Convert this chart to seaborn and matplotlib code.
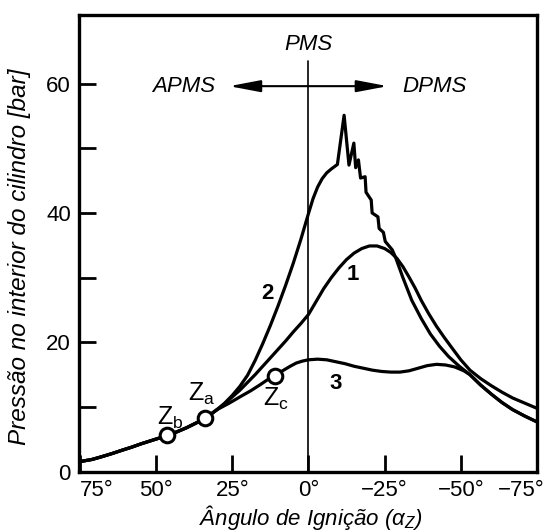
import pandas as pd
import seaborn as sns
import matplotlib.pyplot as plt
from matplotlib.transforms import ScaledTranslation

# Curvas de pressão no cilindro
shared_x = [75.2, 71, 68, 64.5, 61, 58, 55, 51, 46.3, 43, 40, 37, 33.9, 32, 30]
shared_y = [1.55, 1.9, 2.3, 2.8, 3.35, 3.8, 4.3, 4.9, 5.6, 6.2, 6.8, 7.5, 8.25, 8.9, 9.6]

curve1_x = [27.5, 25.4, 22.5, 20, 17.5, 15, 12.5, 10, 7.5, 5, 2.5, 0, -2.5, -5, -7.5,
            -10, -12.5, -15, -17.5, -20, -22.5, -25, -27, -29, -31, -33, -35, -37,
            -39.5, -42, -44.5, -47, -50, -53, -56.5, -60, -63.5, -67, -71, -75]
curve1_y = [10.5, 11.4, 12.6, 13.8, 15.0, 16.3, 17.6, 18.9, 20.2, 21.6, 22.9, 24.3,
            26.3, 28.3, 30.0, 31.5, 32.8, 33.8, 34.5, 34.9, 34.9, 34.5, 33.9, 33.0,
            31.7, 30.1, 28.4, 26.5, 24.4, 22.5, 20.8, 19.2, 17.3, 15.7, 14.4, 13.3,
            12.3, 11.4, 10.6, 9.8]

curve2_x = [27.5, 25, 22.5, 20, 17.5, 15, 12.5, 10, 7.5, 5, 2.5, 0, -1.5, -3, -4.5,
            -6, -7.5, -9.5, -11.7, -13.3,
            -14.9, -15.5, -16.4, -17.1, -18.6, -18.9, -20.6, -20.9, -22.8, -23.2,
            -24.6, -25.2, -27.5, -28.7, -31, -33.9, -37, -40, -43, -46, -49.5, -53,
            -56.5, -60, -63.5, -67, -71, -75]
curve2_y = [10.6, 11.8, 13.2, 14.9, 17.2, 19.8, 22.6, 25.6, 28.8, 32.2, 35.9, 39.9,
            42.2, 44.0, 45.3, 46.2, 46.8, 47.5, 55.1, 47.4,
            50.8, 47.0, 48.2, 45.4, 45.6, 43.2, 42.0, 40.0, 39.4, 37.6,
            37.0, 35.6, 34.3, 33.0, 30.0, 26.5, 23.7, 21.3, 19.4, 17.8, 16.3, 15.0,
            13.4, 12.0, 10.7, 9.6, 8.6, 7.7]

curve3_x = [26, 22, 19, 16, 13.5, 11, 8.5, 6, 4, 2, 0, -3, -6, -9, -12, -15, -18,
            -21, -24, -27, -30, -33, -36, -39, -42, -45, -48, -51, -53,
            -56.5, -60, -63.5, -67, -71, -75]
curve3_y = [10.6, 11.7, 12.5, 13.4, 14.2, 14.9, 15.6, 16.3, 16.8, 17.1, 17.3, 17.4,
            17.3, 17.0, 16.7, 16.3, 16.0, 15.7, 15.5, 15.4, 15.4, 15.6, 16.0, 16.4,
            16.6, 16.5, 16.2, 15.6, 15.0, 13.4, 12.0, 10.7, 9.6, 8.6, 7.7]

# Pontos de ignição Zb, Za, Zc
point_names = ['b', 'a', 'c']
point_x = [46.3, 33.9, 11.0]
point_y = [5.6, 8.25, 14.8]

x_ticks = [75, 50, 25, 0, -25, -50, -75]
x_labels = ['75°', '50°', '25°', '0°', '−25°', '−50°', '−75°']
y_ticks = [0, 10, 20, 30, 40, 50, 60]
y_labels = ['0', '', '20', '', '40', '', '60']
pms_top = 63.5
arrow_y = 59.6
arrow_reach = 26

sns.set_style('ticks')
plt.rcParams['font.family'] = ['Liberation Sans', 'DejaVu Sans']
plt.rcParams['mathtext.fontset'] = 'custom'
plt.rcParams['mathtext.rm'] = 'Liberation Sans'
plt.rcParams['mathtext.it'] = 'Liberation Sans:italic'
plt.rcParams['text.color'] = 'black'
plt.rcParams['axes.labelcolor'] = 'black'
plt.rcParams['axes.edgecolor'] = 'black'
plt.rcParams['xtick.color'] = 'black'
plt.rcParams['ytick.color'] = 'black'

rows = []
for name, xs, ys in [('1', shared_x + curve1_x, shared_y + curve1_y),
                     ('2', shared_x + curve2_x, shared_y + curve2_y),
                     ('3', shared_x + curve3_x, shared_y + curve3_y)]:
    for a, p in zip(xs, ys):
        rows.append({'angle': a, 'pressure': p, 'curve': name})
df = pd.DataFrame(rows)

fig = plt.figure(figsize=(5.45, 5.32), dpi=100)
ax = fig.add_axes([0.1455, 0.1133, 0.8398, 0.8585])

ax.axvline(0, ymax=pms_top / 70.6, color='black', lw=1.2, zorder=1)

sns.lineplot(data=df, x='angle', y='pressure', units='curve', estimator=None,
             sort=False, color='black', lw=2.3, ax=ax, zorder=2,
             solid_joinstyle='round')

pts = pd.DataFrame({'angle': point_x, 'pressure': point_y})
sns.scatterplot(data=pts, x='angle', y='pressure', s=110, facecolor='white',
                edgecolor='black', linewidth=2.2, ax=ax, zorder=3)

ax.set_xlim(75.2, -75)
ax.set_ylim(0, 70.6)
ax.set_xticks(x_ticks)
ax.set_xticklabels(x_labels)
ax.set_yticks(y_ticks)
ax.set_yticklabels(y_labels)
ax.tick_params(direction='in', length=12, width=2, labelsize=16, pad=6)
for s in ax.spines.values():
    s.set_linewidth(2.4)
    s.set_visible(True)

lbls = ax.get_xticklabels()
lbls[0].set_ha('left')
lbls[-1].set_ha('right')
lbls[-1].set_transform(lbls[-1].get_transform() + ScaledTranslation(8 / 100, 0, fig.dpi_scale_trans))

ax.set_xlabel('Ângulo de Ignição (α$_Z$)', fontsize=16, style='italic')
ax.set_ylabel('Pressão no interior do cilindro [bar]', fontsize=17.5, style='italic')
ax.xaxis.set_label_coords(0.506, -0.068)
ax.yaxis.set_label_coords(-0.105, 0.47)

# Setas APMS / DPMS
for end in [arrow_reach, -arrow_reach]:
    ax.annotate('', xy=(end, arrow_y), xytext=(0, arrow_y),
                arrowprops=dict(arrowstyle='-|>,head_length=0.95,head_width=0.18',
                                mutation_scale=20, color='black', lw=1.5,
                                shrinkA=0, shrinkB=0))
ax.text(41, arrow_y, 'APMS', fontsize=16, style='italic', ha='center', va='center')
ax.text(-41.4, arrow_y, 'DPMS', fontsize=16, style='italic', ha='center', va='center')
ax.text(0, 66, 'PMS', fontsize=16, style='italic', ha='center', va='center')

# Números das curvas
ax.text(-14.6, 30.5, '1', fontsize=16, fontweight='bold', ha='center', va='center')
ax.text(13.5, 27.6, '2', fontsize=16, fontweight='bold', ha='center', va='center')
ax.text(-9, 13.7, '3', fontsize=16, fontweight='bold', ha='center', va='center')

# Rótulos Z
label_pos = {'b': (45.5, 8.3), 'a': (35.2, 12.1), 'c': (10.6, 11.3)}
for n in point_names:
    lx, ly = label_pos[n]
    ax.text(lx, ly, '$\\mathregular{Z_' + n + '}$', fontsize=18, ha='center', va='center')

fig.savefig('out.png', dpi=100)
